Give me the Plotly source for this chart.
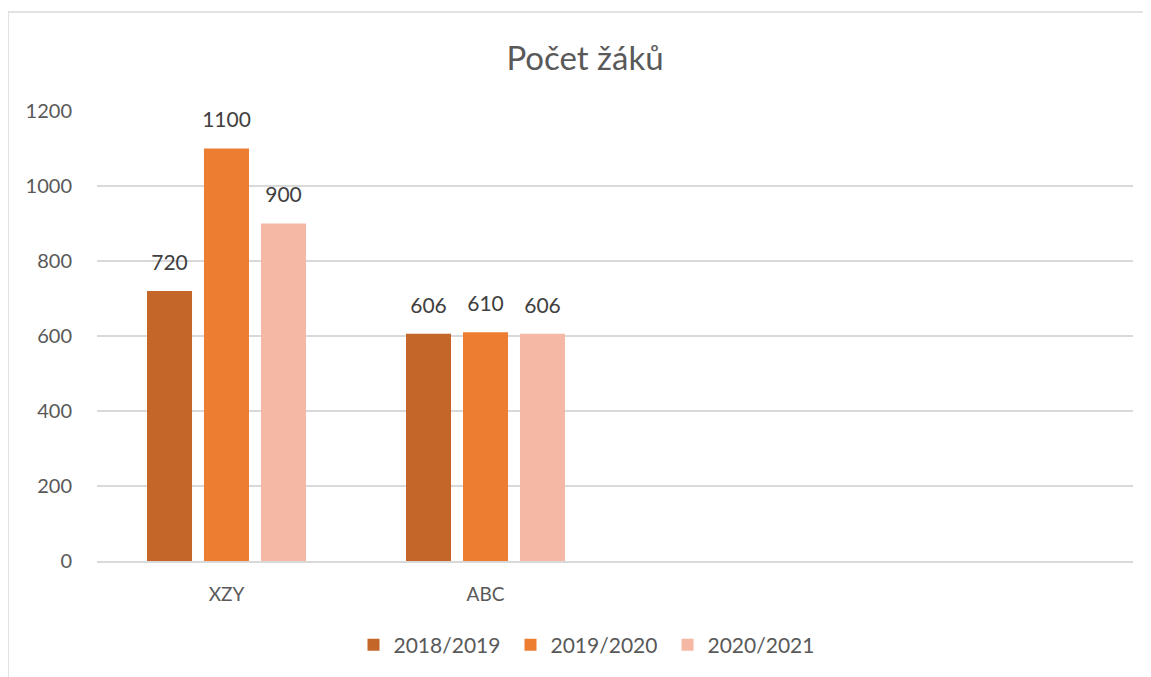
import plotly.graph_objects as go

# data
schools = ["XZY", "ABC", " ", "  "]
years = ["2018/2019", "2019/2020", "2020/2021"]
pupils = {
    "2018/2019": [720, 606, None, None],
    "2019/2020": [1100, 610, None, None],
    "2020/2021": [900, 606, None, None],
}
y_ticks = [0, 200, 400, 600, 800, 1000, 1200]

colors = ["#C4662A", "#ED7D31", "#F4B8A5"]
FONT = "Lato"
GRAY = "#595959"
W, H = 1151, 677
OFF = 8  # page body margin

fig = go.Figure()
for i, yr in enumerate(years):
    fig.add_trace(
        go.Bar(
            x=schools,
            y=pupils[yr],
            name=yr,
            marker_color=colors[i],
            marker_line_width=0,
        )
    )
# value labels, grouped the same way as the bars
for i, yr in enumerate(years):
    fig.add_trace(
        go.Scatter(
            x=schools,
            y=pupils[yr],
            mode="markers+text",
            text=pupils[yr],
            textposition="top center",
            textfont=dict(size=21, color="#404040", family=FONT),
            marker=dict(size=24, opacity=0),
            showlegend=False,
            hoverinfo="skip",
            cliponaxis=False,
        )
    )

fig.update_layout(
    width=W,
    height=H,
    paper_bgcolor="white",
    plot_bgcolor="white",
    margin=dict(l=97 - OFF, r=W - (97 - OFF) - 1036, t=111 - OFF, b=H - (111 - OFF) - 450),
    barmode="group",
    bargap=0.34,
    bargroupgap=0.21,
    scattermode="group",
    scattergap=0.34,
    font=dict(family=FONT, color=GRAY, size=20),
    title=dict(
        text="Počet žáků",
        x=(585 - OFF) / W,
        xref="container",
        xanchor="center",
        y=1 - (58 - OFF) / H,
        yref="container",
        yanchor="middle",
        font=dict(size=33, color=GRAY, family=FONT),
    ),
    legend=dict(
        orientation="h",
        xref="container",
        yref="container",
        x=(589 - OFF) / W,
        xanchor="center",
        y=1 - (645 - OFF) / H,
        yanchor="middle",
        font=dict(size=21, color=GRAY),
        itemwidth=30,
        entrywidth=112,
        entrywidthmode="pixels",
    ),
)

fig.update_xaxes(
    type="category",
    range=[-0.5, 3.5],
    showgrid=False,
    showline=True,
    linecolor="#D9D9D9",
    linewidth=1.5,
    ticks="outside",
    ticklen=15,
    tickcolor="rgba(0,0,0,0)",
    tickfont=dict(size=19, color=GRAY),
)
fig.update_yaxes(
    range=[0, 1200],
    tickvals=y_ticks,
    showgrid=True,
    gridcolor="#D9D9D9",
    gridwidth=1.5,
    zeroline=False,
    ticks="outside",
    ticklen=20,
    tickcolor="rgba(0,0,0,0)",
    tickfont=dict(size=20, color=GRAY),
)

# chart border (excel chart area)
fig.add_shape(
    type="rect",
    xref="paper",
    yref="paper",
    x0=(8 - 97) / 1036,
    x1=1.2,
    y0=-0.5,
    y1=1 + (111 - 12) / 450,
    line=dict(color="#D9D9D9", width=1.5),
    layer="below",
)

fig.write_html("out.html")
